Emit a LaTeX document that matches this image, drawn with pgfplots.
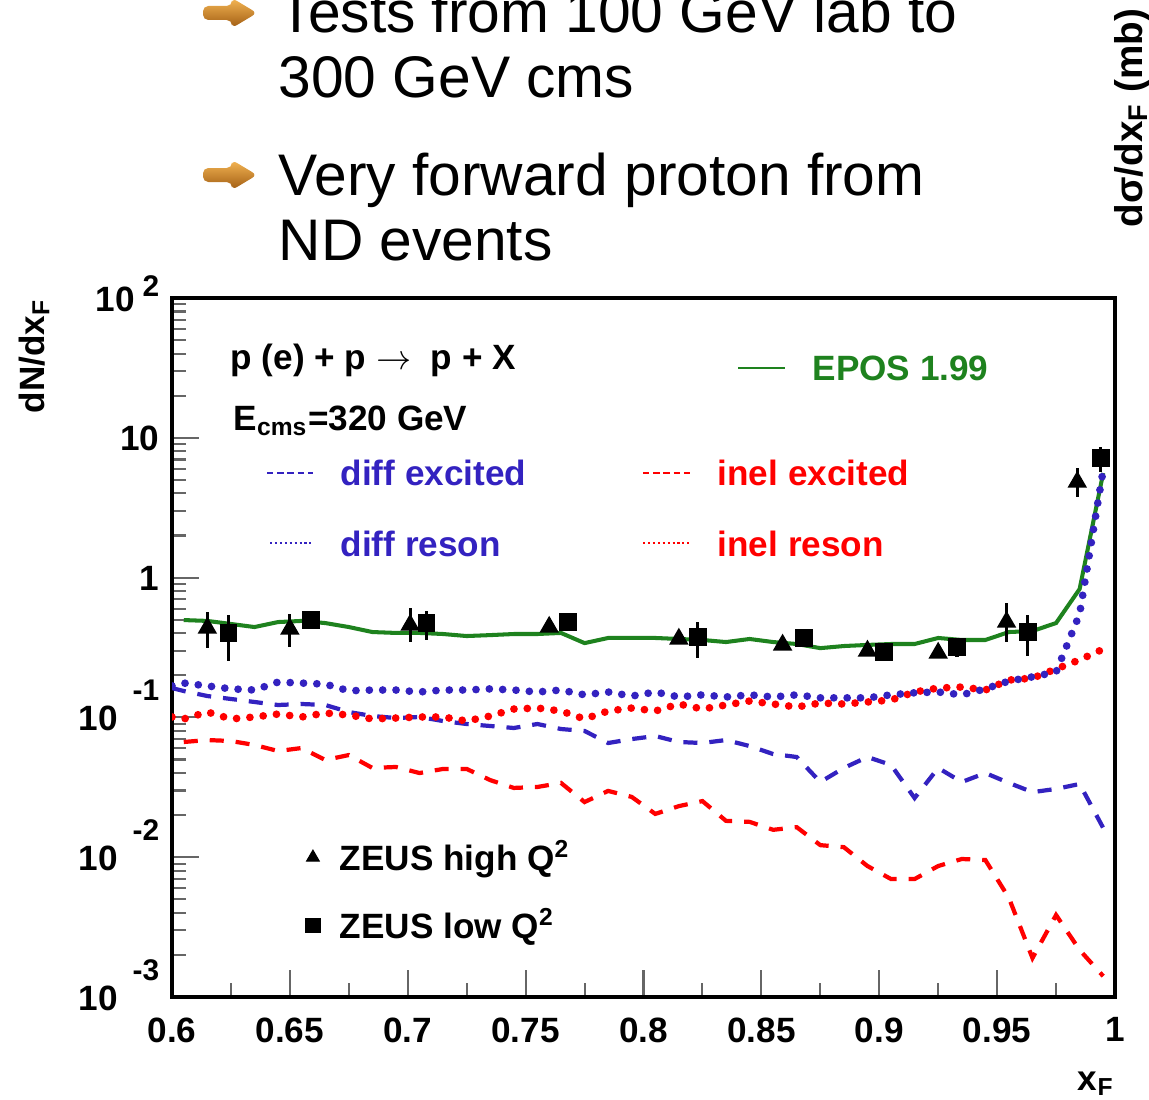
\documentclass[border=0pt]{standalone}
\usepackage{pgfplots}
\usepackage{pgfplotstable}
\pgfplotsset{compat=1.18}
\usepackage{fontspec}
\setmainfont{Liberation Sans}
\definecolor{rblue}{RGB}{51,34,192}
\definecolor{rgreen}{RGB}{30,130,30}
\definecolor{arrA}{RGB}{245,182,84}
\definecolor{arrB}{RGB}{160,92,18}
\newcommand{\ex}[1]{\fontsize{8.5}{9}\selectfont #1}

% EPOS 1.99 total
\pgfplotstableread{
x y
0.605 0.497
0.615 0.490
0.625 0.466
0.635 0.443
0.645 0.481
0.655 0.490
0.665 0.473
0.675 0.443
0.685 0.408
0.695 0.402
0.705 0.402
0.715 0.395
0.725 0.382
0.735 0.388
0.745 0.395
0.755 0.395
0.765 0.402
0.775 0.340
0.785 0.370
0.795 0.370
0.805 0.370
0.815 0.364
0.825 0.358
0.835 0.346
0.845 0.364
0.855 0.346
0.865 0.335
0.875 0.313
0.885 0.324
0.895 0.330
0.905 0.335
0.915 0.335
0.925 0.370
0.935 0.358
0.945 0.358
0.955 0.408
0.965 0.415
0.975 0.473
0.985 0.829
0.995 5.60
}\epos

% diff reson
\pgfplotstableread{
x y
0.600 0.168
0.605 0.176
0.615 0.168
0.625 0.160
0.635 0.157
0.645 0.179
0.655 0.176
0.665 0.173
0.675 0.155
0.685 0.157
0.695 0.157
0.705 0.152
0.715 0.157
0.725 0.157
0.735 0.160
0.745 0.157
0.755 0.152
0.765 0.157
0.775 0.145
0.785 0.152
0.795 0.142
0.805 0.152
0.815 0.140
0.825 0.145
0.835 0.140
0.845 0.145
0.855 0.140
0.865 0.145
0.875 0.138
0.885 0.138
0.895 0.138
0.905 0.145
0.915 0.150
0.925 0.152
0.935 0.145
0.945 0.160
0.955 0.182
0.965 0.195
0.975 0.211
0.985 0.549
0.995 5.89
}\diffres

% inel reson
\pgfplotstableread{
x y
0.600 0.1007
0.605 0.0975
0.615 0.1093
0.625 0.0975
0.635 0.1007
0.645 0.1057
0.655 0.1007
0.665 0.1075
0.675 0.1040
0.685 0.0975
0.695 0.0990
0.705 0.1007
0.715 0.1007
0.725 0.0942
0.735 0.1023
0.745 0.1148
0.755 0.1167
0.765 0.1111
0.775 0.0975
0.785 0.1111
0.795 0.1167
0.805 0.1111
0.815 0.1247
0.825 0.1148
0.835 0.1227
0.845 0.1310
0.855 0.1247
0.865 0.1187
0.875 0.1267
0.885 0.1247
0.895 0.1289
0.905 0.1331
0.915 0.1520
0.925 0.1622
0.935 0.1649
0.945 0.157
0.955 0.185
0.965 0.191
0.975 0.222
0.985 0.258
0.995 0.308
}\inelres

% diff excited
\pgfplotstableread{
x y
0.600 0.1622
0.605 0.1545
0.615 0.1422
0.625 0.1355
0.635 0.1289
0.645 0.1227
0.655 0.1247
0.665 0.1227
0.675 0.1093
0.685 0.1023
0.695 0.0990
0.705 0.1007
0.715 0.0942
0.725 0.0897
0.735 0.0868
0.745 0.0840
0.755 0.0897
0.765 0.0826
0.775 0.0800
0.785 0.0656
0.795 0.0700
0.805 0.0736
0.815 0.0667
0.825 0.0656
0.835 0.0689
0.845 0.0624
0.855 0.0547
0.865 0.0521
0.875 0.0345
0.885 0.0435
0.895 0.0521
0.905 0.0457
0.915 0.0265
0.925 0.0435
0.935 0.0345
0.945 0.0400
0.955 0.0340
0.965 0.0292
0.975 0.0308
0.985 0.0334
0.995 0.0162
}\diffexc

% inel excited
\pgfplotstableread{
x y
0.605 0.0667
0.615 0.0689
0.625 0.0678
0.635 0.0635
0.645 0.0575
0.655 0.0604
0.665 0.0496
0.675 0.0538
0.685 0.0435
0.695 0.0442
0.705 0.0400
0.715 0.0428
0.725 0.0428
0.735 0.0356
0.745 0.0313
0.755 0.0318
0.765 0.0340
0.775 0.0248
0.785 0.0298
0.795 0.0270
0.805 0.0204
0.815 0.0232
0.825 0.0252
0.835 0.0182
0.845 0.0179
0.855 0.0157
0.865 0.0164
0.875 0.0122
0.885 0.0118
0.895 0.00865
0.905 0.00698
0.915 0.00698
0.925 0.00865
0.935 0.00971
0.945 0.00955
0.955 0.00511
0.965 0.00190
0.975 0.00386
0.985 0.00217
0.995 0.00141
}\inelexc

% ZEUS high Q2
\pgfplotstableread{
x y ep em
0.615 0.436 0.132 0.123
0.650 0.429 0.120 0.110
0.701 0.458 0.149 0.112
0.760 0.443 0.02 0.02
0.815 0.364 0.02 0.02
0.859 0.330 0.02 0.02
0.895 0.299 0.02 0.02
0.925 0.289 0.02 0.02
0.954 0.481 0.177 0.135
0.984 4.83 1.25 1.05
}\zeushigh

% ZEUS low Q2
\pgfplotstableread{
x y ep em
0.624 0.402 0.138 0.149
0.659 0.497 0.03 0.03
0.708 0.473 0.103 0.115
0.768 0.481 0.02 0.02
0.823 0.376 0.105 0.110
0.868 0.370 0.02 0.02
0.902 0.294 0.02 0.02
0.933 0.319 0.051 0.049
0.963 0.408 0.132 0.133
0.994 7.17 1.42 1.48
}\zeuslow

\begin{document}
\begin{tikzpicture}
\useasboundingbox (0,0) rectangle (114.9mm,-110mm);
\clip (0,0) rectangle (114.9mm,-110mm);
\begin{axis}[
  at={(17.2mm,-99.7mm)}, anchor=south west,
  scale only axis, width=94.3mm, height=69.9mm,
  xmin=0.6, xmax=1.0, ymode=log, ymin=1e-3, ymax=1e2,
  xtick={0.6,0.65,0.7,0.75,0.8,0.85,0.9,0.95,1.0},
  xticklabels={0.6,0.65,0.7,0.75,0.8,0.85,0.9,0.95,1},
  minor xtick={0.625,0.675,0.725,0.775,0.825,0.875,0.925,0.975},
  ytick={1e-3,1e-2,1e-1,1,10,100},
  yticklabels={10\hspace{1.5mm}\raisebox{3mm}{\ex{-3}},
               10\hspace{1.5mm}\raisebox{3mm}{\ex{-2}},
               10\hspace{1.5mm}\raisebox{3mm}{\ex{-1}},
               1\hspace{3mm},
               10\hspace{2.5mm},
               10\hspace{0.8mm}\raisebox{1.5mm}{\ex{2}}},
  minor ytick={2e-3,3e-3,4e-3,5e-3,6e-3,7e-3,8e-3,9e-3,
               2e-2,3e-2,4e-2,5e-2,6e-2,7e-2,8e-2,9e-2,
               0.2,0.3,0.4,0.5,0.6,0.7,0.8,0.9,
               2,3,4,5,6,7,8,9,20,30,40,50,60,70,80,90},
  tick pos=left, tick align=inside,
  major tick length=2.7mm, minor tick length=1.4mm,
  tick style={black!60, line width=0.6pt},
  axis line style={line width=0.9pt},
  tick label style={font=\fontsize{10}{12}\selectfont\bfseries, inner sep=0pt},
  xticklabel style={anchor=north, yshift=-2mm},
  yticklabel style={anchor=base east, xshift=-1.2mm, yshift=-1.3mm},
  legend style={draw=none, fill=none, at={(0.142,0.2246)}, anchor=north west,
    inner sep=0pt, outer sep=0pt, row sep=3.3mm,
    font=\fontsize{10}{12}\selectfont\bfseries,
    nodes={inner sep=0pt, text height=3mm, text depth=0.5mm},
    /tikz/every odd column/.append style={column sep=2mm}},
  legend cell align=left,
  legend image code/.code={\draw[#1] plot coordinates {(0cm,0cm)};},
  legend image post style={mark size=2pt},
]
\addplot[red, line width=1.2pt, dash pattern=on 4pt off 3.4pt, forget plot] table {\inelexc};
\addplot[rblue, line width=1.2pt, dash pattern=on 4pt off 3.4pt, forget plot] table {\diffexc};
\addplot[red, line width=2.2pt, line cap=round, dash pattern=on 0pt off 3.8pt, forget plot] table {\inelres};
\addplot[rgreen, line width=1.15pt, forget plot] table {\epos};
\addplot[rblue, line width=2.2pt, line cap=round, dash pattern=on 0pt off 3.8pt, forget plot] table {\diffres};
\addplot[black, only marks, mark=triangle*, mark size=2.8pt,
  error bars/.cd, y dir=both, y explicit, error mark=none,
  error bar style={line width=0.9pt, black}]
  table[x=x, y=y, y error plus=ep, y error minus=em] {\zeushigh};
\addlegendentry{ZEUS high Q\textsuperscript{2}}
\addplot[black, only marks, mark=square*, mark size=2.3pt,
  error bars/.cd, y dir=both, y explicit, error mark=none,
  error bar style={line width=0.9pt, black}]
  table[x=x, y=y, y error plus=ep, y error minus=em] {\zeuslow};
\addlegendentry{ZEUS low Q\textsuperscript{2}}
\end{axis}

\begin{scope}[x=0.1mm, y=-0.1mm]
  % bullet arrows
  \foreach \c in {13,175} {
    \shade[top color=arrA, bottom color=arrB, rounded corners=1.5pt]
      (203,\c-7) -- (232,\c-7) -- (232,\c-15) -- (257,\c) -- (232,\c+15) -- (232,\c+7) -- (203,\c+7) -- cycle;
  }
  \begin{scope}[every node/.style={anchor=base west, inner sep=0pt, font=\fontsize{16.7}{20}\selectfont}]
    \node at (278,33) {Tests from 100 GeV lab to};
    \node at (278,98) {300 GeV cms};
    \node at (278,195) {Very forward proton from};
    \node at (278,260) {ND events};
  \end{scope}
  % axis titles
  \node[rotate=90, anchor=base east, inner sep=0pt, font=\fontsize{10}{12}\selectfont\bfseries] at (44,298) {dN/dx\textsubscript{F}};
  \node[anchor=base east, inner sep=0pt, font=\fontsize{10}{12}\selectfont\bfseries] at (1115,1090) {x\textsubscript{F}};
  \node[rotate=90, anchor=base west, inner sep=0pt, font=\fontsize{11}{13}\selectfont\bfseries] at (1142,228) {dσ/dx\textsubscript{F} (mb)};
  % in-plot texts
  \begin{scope}[every node/.style={anchor=base west, inner sep=0pt, font=\fontsize{10}{12}\selectfont\bfseries}]
    \node at (230,369) {p (e) + p $\rightarrow$\ \ p + X};
    \node at (233,430) {E\textsubscript{cms}=320 GeV};
    \node[text=rgreen] at (812,380) {EPOS 1.99};
    \node[text=rblue] at (340,485) {diff excited};
    \node[text=rblue] at (340,556) {diff reson};
    \node[text=red] at (717,485) {inel excited};
    \node[text=red] at (717,556) {inel reson};
  \end{scope}
  % legend line samples
  \draw[rgreen, line width=0.8pt] (738,368) -- (785,368);
  \draw[rblue, line width=0.7pt, dash pattern=on 1.8pt off 1.1pt] (267,473) -- (313,473);
  \draw[rblue, line width=0.7pt, dash pattern=on 0.6pt off 0.8pt] (270,543) -- (313,543);
  \draw[red, line width=0.7pt, dash pattern=on 1.8pt off 1.1pt] (643,473) -- (692,473);
  \draw[red, line width=0.7pt, dash pattern=on 0.6pt off 0.8pt] (643,543) -- (692,543);
\end{scope}
\end{tikzpicture}
\end{document}
